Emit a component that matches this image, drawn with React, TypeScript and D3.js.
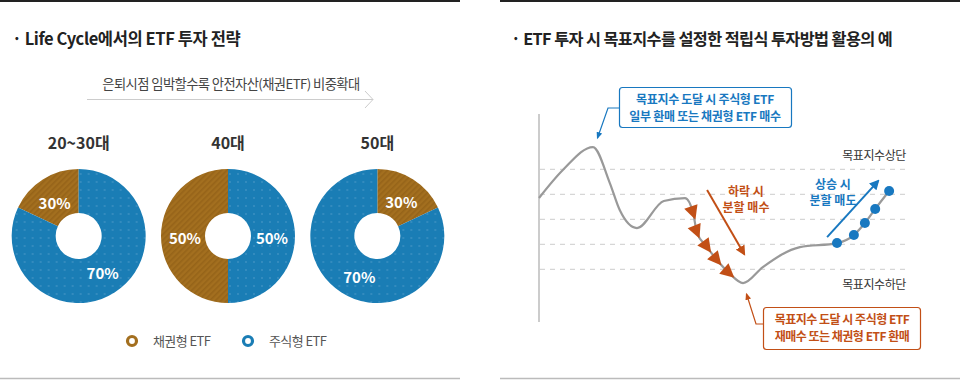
import React from "react";
import * as d3 from "d3";

// ---------- Data: left panel (life cycle pies) ----------
const ageGroups = ["20~30대", "40대", "50대"];
const bondLabels = ["30%", "50%", "30%"];
const stockLabels = ["70%", "50%", "70%"];
// slice share as drawn in the picture (bond part)
const bondShare = [18, 50, 18];
const bondSide = ["left", "left", "right"]; // where bond slice sits relative to 12 o'clock
const legendLabels = ["채권형 ETF", "주식형 ETF"];

// ---------- Data: right panel (index path) ----------
const curveT = [0, 6.5, 14.7, 19.3, 22, 26.7, 34, 39.8, 42, 43, 45.8, 48.5, 51.8, 55.6, 61, 71.1, 81.2, 85.8, 88.8, 91.6, 95.4];
const curveV = [3.85, 4.97, 5.89, 4.45, 3.37, 2.65, 3.73, 3.85, 3.25, 2.49, 1.89, 1.37, 0.85, 0.45, 1.09, 1.89, 2.05, 2.37, 2.85, 3.41, 4.13];
const buyIdx = [8, 9, 10, 11, 12];
const sellIdx = [16, 17, 18, 19, 20];
const gridLevels = [1, 2, 3, 4, 5];

const FONT = "'Noto Sans CJK KR', 'Noto Sans', sans-serif";
const BROWN = "#a36f1f";
const BLUE = "#1a7db5";
const ORANGE = "#c24f16";
const TBLUE = "#1878c0";

export default function App() {
  const pieCx = d3.scaleBand<string>().domain(ageGroups).range([4, 452]);
  const cy = 236;
  const rOut = 67;
  const rIn = 23;
  const arc = d3.arc<any>().innerRadius(rIn).outerRadius(rOut);

  const x = d3.scaleLinear().domain([0, 100]).range([539, 906]);
  const y = d3.scaleLinear().domain([0, 6]).range([294.3, 144.3]);
  const pts: [number, number][] = curveT.map((t, i) => [x(t), y(curveV[i])]);
  const line = d3.line().curve(d3.curveMonotoneX)(pts) || "";

  const triAngle = (i: number) => {
    const a = pts[i - 1], b = pts[i + 1] || pts[i];
    return (Math.atan2(b[1] - a[1], b[0] - a[0]) * 180) / Math.PI;
  };

  return (
    <svg width={960} height={380} style={{ position: "absolute", left: 0, top: 0, background: "#fff" }} fontFamily={FONT}>
      <defs>
        <pattern id="stripes" width="4" height="4" patternUnits="userSpaceOnUse" patternTransform="rotate(45)">
          <rect width="4" height="4" fill={BROWN} />
          <rect width="1.6" height="4" fill="#966419" />
        </pattern>
        <pattern id="dots" width="8" height="8" patternUnits="userSpaceOnUse">
          <rect width="8" height="8" fill={BLUE} />
          <circle cx="2" cy="2" r="0.7" fill="#5fa3cf" />
        </pattern>
        <marker id="arO" viewBox="0 0 10 10" refX="8" refY="5" markerWidth="5" markerHeight="5" orient="auto">
          <path d="M0,0 L10,5 L0,10 z" fill={ORANGE} />
        </marker>
        <marker id="arB" viewBox="0 0 10 10" refX="8" refY="5" markerWidth="5" markerHeight="5" orient="auto">
          <path d="M0,0 L10,5 L0,10 z" fill={TBLUE} />
        </marker>
        <marker id="arO2" viewBox="0 0 10 10" refX="8" refY="5" markerWidth="6" markerHeight="6" orient="auto">
          <path d="M0,1 L10,5 L0,9 z" fill={ORANGE} />
        </marker>
        <marker id="arB2" viewBox="0 0 10 10" refX="8" refY="5" markerWidth="6" markerHeight="6" orient="auto">
          <path d="M0,1 L10,5 L0,9 z" fill={TBLUE} />
        </marker>
      </defs>

      {/* frame lines */}
      <line x1={0} x2={460} y1={1} y2={1} stroke="#222" strokeWidth={2} />
      <line x1={500} x2={960} y1={1} y2={1} stroke="#222" strokeWidth={2} />
      <line x1={0} x2={460} y1={378.5} y2={378.5} stroke="#bbb" strokeWidth={1.5} />
      <line x1={500} x2={960} y1={378.5} y2={378.5} stroke="#bbb" strokeWidth={1.5} />

      {/* left title */}
      <text x={12} y={45} fontSize={16.5} fontWeight={700} fill="#222" letterSpacing={-0.4}>
        · Life Cycle에서의 ETF 투자 전략
      </text>
      <text x={231} y={89} fontSize={13.3} fill="#444" textAnchor="middle" letterSpacing={-0.6}>
        은퇴시점 임박할수록 안전자산(채권ETF) 비중확대
      </text>
      <line x1={87} x2={373} y1={99.5} y2={99.5} stroke="#ccc" strokeWidth={1} />
      <polyline points="365,91 373,99.5 365,108" fill="none" stroke="#ccc" strokeWidth={1} />

      {ageGroups.map((g, i) => {
        const cx = (pieCx(g) || 0) + pieCx.bandwidth() / 2;
        const bondAng = (bondShare[i] / 100) * Math.PI * 2;
        const bondArc = bondSide[i] === "left"
          ? { startAngle: -bondAng, endAngle: 0 }
          : { startAngle: 0, endAngle: bondAng };
        const stockArc = bondSide[i] === "left"
          ? { startAngle: 0, endAngle: Math.PI * 2 - bondAng }
          : { startAngle: bondAng, endAngle: Math.PI * 2 };
        const bc = i === 1 ? [-43, 1] : bondSide[i] === "left" ? [-24, -34] : [24, -35];
        const sc = i === 1 ? [44, 1] : bondSide[i] === "left" ? [24, 36] : [-18, 40];
        return (
          <g key={g} transform={`translate(${cx},${cy})`}>
            <text y={-87} fontSize={16} fontWeight={700} fill="#333" textAnchor="middle">{g}</text>
            <path d={arc(bondArc as any) || ""} fill="url(#stripes)" />
            <path d={arc(stockArc as any) || ""} fill="url(#dots)" />
            <text x={bc[0]} y={bc[1]} fontSize={15} fontWeight={700} fill="#fff" textAnchor="middle" dominantBaseline="central">{bondLabels[i]}</text>
            <text x={sc[0]} y={sc[1]} fontSize={15} fontWeight={700} fill="#fff" textAnchor="middle" dominantBaseline="central">{stockLabels[i]}</text>
          </g>
        );
      })}

      {/* legend */}
      {legendLabels.map((l, i) => (
        <g key={l} transform={`translate(${132 + i * 116},341)`}>
          <circle r={4.5} fill="#fff" stroke={i === 0 ? BROWN : BLUE} strokeWidth={3.2} />
          <text x={21} y={5} fontSize={13} fill="#555" letterSpacing={-0.6}>{l}</text>
        </g>
      ))}

      {/* right title */}
      <text x={511} y={45} fontSize={16.3} fontWeight={700} fill="#222" letterSpacing={-0.6}>
        · ETF 투자 시 목표지수를 설정한 적립식 투자방법 활용의 예
      </text>

      {/* axis & grid */}
      <line x1={539} x2={539} y1={114} y2={322} stroke="#bbb" strokeWidth={1.5} />
      {gridLevels.map((v) => (
        <line key={v} x1={540} x2={906} y1={y(v)} y2={y(v)} stroke="#ccc" strokeWidth={1} strokeDasharray="5,5" />
      ))}
      <text x={906} y={160} fontSize={12} fill="#333" textAnchor="end" letterSpacing={-0.4}>목표지수상단</text>
      <text x={906} y={289} fontSize={12} fill="#333" textAnchor="end" letterSpacing={-0.4}>목표지수하단</text>

      {/* index curve */}
      <path d={line} fill="none" stroke="#999" strokeWidth={2.2} />

      {/* buy triangles */}
      {buyIdx.map((i) => (
        <path key={i} d="M7,0 L-7,-7 L-7,7 Z" fill={ORANGE}
          transform={`translate(${pts[i][0]},${pts[i][1]}) rotate(${triAngle(i)})`} />
      ))}
      {/* sell dots */}
      {sellIdx.map((i) => (
        <circle key={i} cx={pts[i][0]} cy={pts[i][1]} r={5} fill={TBLUE} />
      ))}

      {/* annotation arrows */}
      <line x1={x(45.8)} y1={y(4.17)} x2={x(55.9)} y2={y(1.61)} stroke={ORANGE} strokeWidth={2} markerEnd="url(#arO)" />
      <text x={746} y={196} fontSize={12} fontWeight={600} fill={ORANGE} textAnchor="middle">하락 시</text>
      <text x={746} y={212} fontSize={12} fontWeight={600} fill={ORANGE} textAnchor="middle">분할 매수</text>
      <line x1={x(78.5)} y1={y(2.29)} x2={x(92.4)} y2={y(4.53)} stroke={TBLUE} strokeWidth={2} markerEnd="url(#arB)" />
      <text x={833} y={189} fontSize={12} fontWeight={600} fill={TBLUE} textAnchor="middle">상승 시</text>
      <text x={833} y={205} fontSize={12} fontWeight={600} fill={TBLUE} textAnchor="middle">분할 매도</text>

      {/* top callout */}
      <rect x={619.5} y={87.5} width={172} height={40} rx={3} fill="#fff" stroke={TBLUE} strokeWidth={1.2} />
      <text x={705} y={104} fontSize={12} fontWeight={600} fill={TBLUE} textAnchor="middle" letterSpacing={-0.3}>목표지수 도달 시 주식형 ETF</text>
      <text x={705} y={121} fontSize={12} fontWeight={600} fill={TBLUE} textAnchor="middle" letterSpacing={-0.3}>일부 환매 또는 채권형 ETF 매수</text>
      <polyline points="619,108 608,108 597.5,138" fill="none" stroke={TBLUE} strokeWidth={1.2} markerEnd="url(#arB2)" />

      {/* bottom callout */}
      <rect x={763.5} y={307.5} width={157} height={42} rx={3} fill="#fff" stroke={ORANGE} strokeWidth={1.2} />
      <text x={842} y={324} fontSize={12} fontWeight={600} fill={ORANGE} textAnchor="middle" letterSpacing={-0.5}>목표지수 도달 시 주식형 ETF</text>
      <text x={842} y={341} fontSize={12} fontWeight={600} fill={ORANGE} textAnchor="middle" letterSpacing={-0.5}>재매수 또는 채권형 ETF 환매</text>
      <polyline points="763,324 756,324 746.5,294" fill="none" stroke={ORANGE} strokeWidth={1.2} markerEnd="url(#arO2)" />
    </svg>
  );
}
